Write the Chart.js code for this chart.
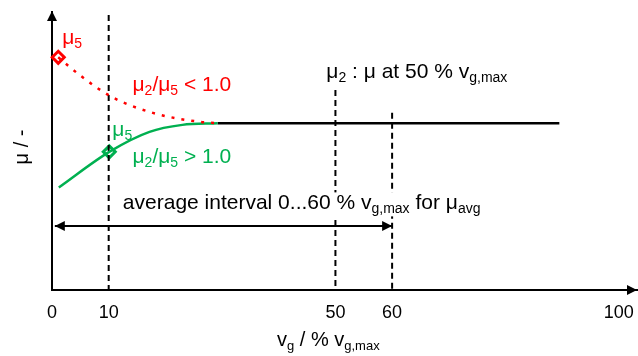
<!DOCTYPE html>
<html>
<head>
<meta charset="utf-8">
<script src="https://cdn.jsdelivr.net/npm/chart.js@4/dist/chart.umd.min.js"></script>
<style>
    html, body { margin: 0; padding: 0; background: #fff; }
    canvas { display: block; }
</style>
</head>
<body>
<canvas id="muChart" width="638" height="356"></canvas>
<script>
// friction coefficient over sliding speed (% of v_g,max)
const redX = [1.1, 4.9, 10.5, 17.8, 26, 29.2];
const redY = [83.7, 77.3, 69.5, 63.7, 60.5, 60];
const greenX = [1.2, 10.1, 17.2, 23, 29.2];
const greenY = [36.9, 49.7, 56.9, 59.4, 60];
const plateauX = [29.2, 89.5];
const plateauY = [60, 60];

// mu5 markers
const redMarker = [1.1, 83.7];
const greenMarker = [10.1, 49.7];

// vertical reference lines at 10, 50 and 60 %
const vlineX = [10, 50, 60];
const vlineTop = [98.9, 71.9, 63.8];

// averaging interval 0...60 %
const spanX = [0.5, 60];
const spanY = 23;

const tickValues = [0, 10, 50, 60, 100];

const RED = '#ff0000';
const GREEN = '#00b050';
const FONT = '"Liberation Sans", Arial, sans-serif';

const toPts = (xs, ys) => xs.map((x, i) => ({ x: x, y: ys[i] }));

const datasets = [
    {
        data: toPts(redX, redY),
        borderColor: RED, borderWidth: 2.5, borderDash: [3, 7],
        cubicInterpolationMode: 'monotone', pointRadius: 0
    },
    {
        data: toPts(greenX, greenY),
        borderColor: GREEN, borderWidth: 2.5,
        cubicInterpolationMode: 'monotone', pointRadius: 0
    },
    {
        data: toPts(plateauX, plateauY),
        borderColor: '#000', borderWidth: 2.5, pointRadius: 0
    },
    {
        data: toPts(spanX, [spanY, spanY]),
        borderColor: '#000', borderWidth: 2, pointRadius: 0
    }
];

vlineX.forEach((x, i) => {
    datasets.push({
        data: [{ x: x, y: vlineTop[i] }, { x: x, y: 0 }],
        borderColor: '#000', borderWidth: 2, borderDash: [6, 4], pointRadius: 0
    });
});

[[redMarker, RED], [greenMarker, GREEN]].forEach(([p, c]) => {
    datasets.push({
        data: [{ x: p[0], y: p[1] }],
        showLine: false, clip: false,
        pointStyle: 'rectRot', pointRadius: 6, borderWidth: 3,
        borderColor: c, backgroundColor: '#fff'
    });
});

// text with subscripts: parts = [[text, isSub], ...]
function drawRich(ctx, parts, x, y, color, size) {
    let cx = x;
    ctx.fillStyle = color;
    ctx.textBaseline = 'alphabetic';
    ctx.textAlign = 'left';
    parts.forEach(([t, sub]) => {
        ctx.font = (sub ? Math.round(size * 0.65) : size) + 'px ' + FONT;
        ctx.fillText(t, cx, sub ? y + 4 : y);
        cx += ctx.measureText(t).width;
    });
    return cx - x;
}

function arrowHead(ctx, tipX, tipY, dx, dy, len, half) {
    ctx.beginPath();
    ctx.moveTo(tipX, tipY);
    ctx.lineTo(tipX - dx * len - dy * half, tipY - dy * len + dx * half);
    ctx.lineTo(tipX - dx * len + dy * half, tipY - dy * len - dx * half);
    ctx.closePath();
    ctx.fill();
}

const annotations = {
    id: 'annotations',
    afterDatasetsDraw(chart) {
        const ctx = chart.ctx;
        const xs = chart.scales.x, ys = chart.scales.y;
        const area = chart.chartArea;
        ctx.save();
        ctx.fillStyle = '#000';

        // axis arrows
        arrowHead(ctx, area.right, area.bottom, 1, 0, 10, 5);
        arrowHead(ctx, area.left, area.top - 1, 0, -1, 10, 5);

        // interval arrows
        const ay = ys.getPixelForValue(spanY);
        arrowHead(ctx, xs.getPixelForValue(spanX[0]), ay, -1, 0, 10, 5);
        arrowHead(ctx, xs.getPixelForValue(spanX[1]), ay, 1, 0, 10, 5);

        const at = (x, y) => [xs.getPixelForValue(x), ys.getPixelForValue(y)];

        // interval label sits on a white box over the dashed lines
        let [lx, ly] = at(12.5, 29);
        const avgParts = [['average interval 0...60 % v'], ['g,max', true], [' for \u03bc'], ['avg', true]];
        ctx.fillStyle = '#fff';
        ctx.fillRect(lx - 3, ly - 17, 362, 24);
        drawRich(ctx, avgParts, lx, ly, '#000', 21);

        [lx, ly] = at(1.8, 88.5);
        drawRich(ctx, [['\u03bc'], ['5', true]], lx, ly, RED, 21);
        [lx, ly] = at(14.2, 71.5);
        drawRich(ctx, [['\u03bc'], ['2', true], ['/\u03bc'], ['5', true], [' < 1.0']], lx, ly, RED, 21);

        [lx, ly] = at(10.65, 55.5);
        drawRich(ctx, [['\u03bc'], ['5', true]], lx, ly, GREEN, 21);
        [lx, ly] = at(14.2, 45.8);
        drawRich(ctx, [['\u03bc'], ['2', true], ['/\u03bc'], ['5', true], [' > 1.0']], lx, ly, GREEN, 21);

        [lx, ly] = at(48.4, 76.4);
        drawRich(ctx, [['\u03bc'], ['2', true], [' : \u03bc at 50 % v'], ['g,max', true]], lx, ly, '#000', 21);

        // axis titles
        drawRich(ctx, [['v'], ['g', true], [' / % v'], ['g,max', true]], 277, 346, '#000', 20);

        ctx.translate(22, 147);
        ctx.rotate(-Math.PI / 2);
        ctx.font = '20px ' + FONT;
        ctx.fillStyle = '#000';
        ctx.textAlign = 'center';
        ctx.textBaseline = 'middle';
        ctx.fillText('\u03bc / -', 0, 0);
        ctx.restore();
    }
};

new Chart(document.getElementById('muChart'), {
    type: 'line',
    data: { datasets: datasets },
    options: {
        responsive: false,
        animation: false,
        devicePixelRatio: 1,
        layout: { autoPadding: false, padding: { top: 12, right: 1, left: 0, bottom: 0 } },
        plugins: { legend: { display: false }, tooltip: { enabled: false } },
        scales: {
            x: {
                type: 'linear', min: 0, max: 103.2,
                afterBuildTicks: s => { s.ticks = tickValues.map(v => ({ value: v })); },
                afterFit: s => { s.height = 66; s.paddingLeft = 0; s.paddingRight = 0; },
                grid: { display: false, drawTicks: false },
                border: { display: true, color: '#000', width: 2 },
                ticks: { color: '#000', padding: 12, font: { family: FONT, size: 18 } }
            },
            y: {
                type: 'linear', min: 0, max: 100,
                afterFit: s => { s.width = 52; s.paddingTop = 0; s.paddingBottom = 0; },
                grid: { display: false, drawTicks: false },
                border: { display: true, color: '#000', width: 2 },
                ticks: { display: false }
            }
        }
    },
    plugins: [annotations]
});
</script>
</body>
</html>
